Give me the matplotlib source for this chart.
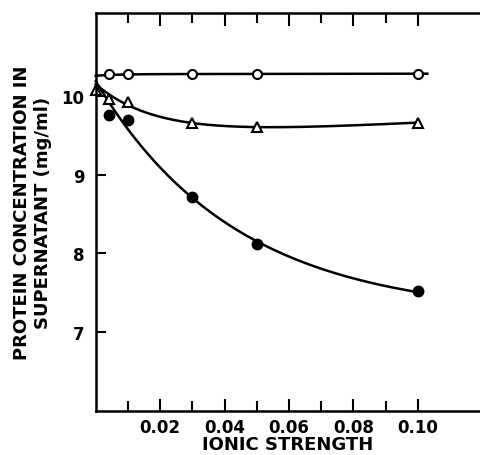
import numpy as np
import matplotlib
matplotlib.use("Agg")
import matplotlib.pyplot as plt
from matplotlib.ticker import FixedLocator

# values
ionic_open = [0.004, 0.01, 0.03, 0.05, 0.10]
conc_open = [10.27, 10.27, 10.27, 10.28, 10.28]

ionic_tri = [0.0, 0.004, 0.01, 0.03, 0.05, 0.10]
conc_tri = [10.07, 9.96, 9.92, 9.65, 9.60, 9.66]

ionic_filled = [0.004, 0.01, 0.03, 0.05, 0.10]
conc_filled = [9.76, 9.69, 8.71, 8.12, 7.52]

# all three fitted curves start from the same point at zero ionic strength
curve_start = 10.25

x_ticks = [0.02, 0.04, 0.06, 0.08, 0.10]
x_ticklabels = ["0.02", "0.04", "0.06", "0.08", "0.10"]
x_minor = [0.01, 0.03, 0.05, 0.07, 0.09]
y_ticks = [7, 8, 9, 10]


def fit_curve(x, y, x_end, slope=True):
    # y = c + A*exp(-k x) (+ m x), k by grid search, rest by least squares
    x = np.r_[0.0, x]
    y = np.r_[curve_start, y]
    best = None
    for k in np.linspace(1, 150, 300):
        cols = [np.ones_like(x), np.exp(-k * x)]
        if slope:
            cols.append(x)
        M = np.column_stack(cols)
        coef, *_ = np.linalg.lstsq(M, y, rcond=None)
        err = np.sum((M @ coef - y) ** 2)
        if best is None or err < best[0]:
            best = (err, k, coef)
    _, k, coef = best
    xs = np.linspace(0, x_end, 200)
    ys = coef[0] + coef[1] * np.exp(-k * xs)
    if slope:
        ys = ys + coef[2] * xs
    return xs, ys


font = {'family': 'DejaVu Sans', 'weight': 'bold', 'size': 12}
matplotlib.rc('font', **font)
matplotlib.rc('axes', labelweight='bold')

fig = plt.figure(figsize=(4.81, 4.56), dpi=100)
ax = fig.add_axes([0.199, 0.0965, 0.80, 0.8728])

lw = 1.8
xo, yo = fit_curve(ionic_open, conc_open, 0.103)
ax.plot(xo, yo, color="black", lw=lw, clip_on=False)
xt, yt = fit_curve(ionic_tri, conc_tri, 0.10)
ax.plot(xt, yt, color="black", lw=lw, clip_on=False)
xf, yf = fit_curve(ionic_filled, conc_filled, 0.10, slope=False)
ax.plot(xf, yf, color="black", lw=lw, clip_on=False)

ax.plot(ionic_open, conc_open, "o", ms=6.5, mfc="white", mec="black", mew=1.5, clip_on=False)
ax.plot(ionic_tri, conc_tri, "^", ms=7.5, mfc="white", mec="black", mew=1.5, clip_on=False)
ax.plot(ionic_filled, conc_filled, "o", ms=7.5, mfc="black", mec="black", clip_on=False)

ax.set_xlim(0, 0.1195)
ax.set_ylim(6, 11.05)

ax.spines["right"].set_visible(False)
for s in ["left", "bottom", "top"]:
    ax.spines[s].set_linewidth(1.8)

ax.set_xticks(x_ticks)
ax.set_xticklabels(x_ticklabels)
ax.xaxis.set_minor_locator(FixedLocator(x_minor))
ax.set_yticks(y_ticks)
ax.tick_params(axis="x", which="both", direction="in", top=True, bottom=True,
               width=1.5, pad=5)
ax.tick_params(axis="x", which="major", length=9)
ax.tick_params(axis="x", which="minor", length=7)
ax.tick_params(axis="y", direction="in", length=7, width=1.5, pad=8, right=False)

ax.set_xlabel("IONIC STRENGTH", labelpad=-1, fontsize=13)
ax.set_ylabel("PROTEIN CONCENTRATION IN\nSUPERNATANT (mg/ml)", labelpad=7,
              linespacing=1.2, fontsize=13)

fig.savefig("out.png", dpi=100)
